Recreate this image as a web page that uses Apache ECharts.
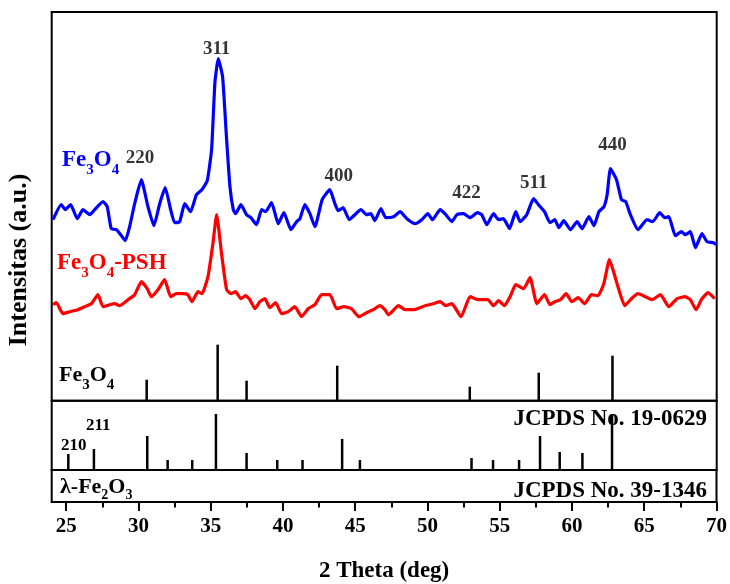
<!DOCTYPE html>
<html><head><meta charset="utf-8">
<script src="https://cdn.jsdelivr.net/npm/echarts@6/dist/echarts.min.js"></script>
<style>html,body{margin:0;padding:0;background:#fff}#c{width:730px;height:584px}</style>
</head><body><div id="c"></div>
<script>
// ---------- data (2θ in degrees, intensity in arbitrary units) ----------
const blueX = [24.09,24.66,24.94,25.31,25.77,26.16,26.63,26.97,27.55,27.84,
  28.12,28.47,28.77,29.09,29.39,29.74,30.20,30.66,31.07,31.47,
  31.85,32.23,32.50,32.85,33.20,33.61,34.01,34.39,34.76,35.06,
  35.29,35.52,35.82,36.10,36.33,36.56,36.72,37.09,37.48,37.78,
  38.17,38.52,38.80,39.21,39.67,40.06,40.55,40.94,41.17,41.51,
  41.86,42.21,42.71,43.24,43.59,43.82,44.16,44.58,44.97,45.39,
  45.78,46.08,46.35,46.77,47.11,47.65,48.10,48.57,49.14,49.60,
  50.02,50.34,50.87,51.26,51.68,52.02,52.49,52.94,53.45,53.75,
  54.10,54.56,54.91,55.25,55.67,56.10,56.40,56.86,57.33,57.67,
  58.09,58.47,58.80,59.08,59.42,59.89,60.34,60.69,61.16,61.51,
  61.85,62.20,62.42,62.65,63.07,63.41,63.71,64.03,64.56,65.18,
  65.58,66.06,66.41,66.69,67.14,67.56,67.84,68.18,68.53,68.98,
  69.33,69.79,69.95];
const blueY = [181,196,191,196,182,191,186,191,199,194,
  172,171,166,160,174,197,221,194,175,197,
  213,191,178,179,197,189,206,211,220,251,
  318,342,324,261,214,191,187,196,186,183,
  176,191,189,198,177,188,171,179,182,196,
  187,174,201,211,197,190,193,181,186,191,
  186,187,180,192,183,184,189,182,177,181,
  187,181,191,186,179,186,187,183,188,186,
  176,187,181,182,172,189,179,186,202,196,
  189,178,181,173,180,171,179,172,184,175,
  189,194,206,232,221,201,199,186,171,181,
  179,188,183,184,165,169,166,169,153,167,
  159,158,156];
const redX = [24.09,24.32,24.78,25.24,25.82,26.28,26.74,27.20,27.55,28.01,
  28.36,28.70,29.28,29.74,30.20,30.61,30.89,31.35,31.81,32.23,
  32.62,33.08,33.42,33.70,34.12,34.39,34.81,35.15,35.41,35.75,
  36.10,36.40,36.72,37.09,37.41,37.71,38.06,38.40,38.75,39.09,
  39.49,39.90,40.36,40.82,41.29,41.74,42.21,42.67,43.24,43.71,
  44.23,44.74,45.25,45.78,46.24,46.70,47.05,47.30,47.99,48.45,
  49.03,49.83,50.41,50.87,51.26,51.68,52.32,52.94,53.52,54.17,
  54.56,54.91,55.32,55.71,56.10,56.64,57.09,57.56,58.09,58.47,
  58.80,59.19,59.58,59.99,60.41,60.87,61.34,61.79,62.19,62.58,
  63.11,63.64,64.10,64.56,65.07,65.53,66.11,66.69,67.26,67.79,
  68.18,68.57,68.98,69.40,69.86];
const redY = [96,98,87,89,91,94,97,106,94,96,
  97,95,101,106,119,112,104,111,121,104,
  107,107,106,99,109,107,124,157,186,147,
  111,107,109,102,105,101,92,99,102,93,
  98,87,89,94,84,92,96,106,106,92,
  94,92,84,88,91,95,91,86,95,91,
  91,95,97,99,95,97,84,104,101,101,
  95,100,95,104,116,112,123,97,106,96,
  99,101,107,99,103,97,106,105,117,141,
  117,95,102,107,104,101,106,94,102,104,
  101,91,102,108,102];
// reference patterns (stick positions / heights)
const fe3o4Pos = [30.57,35.48,37.48,43.75,52.92,57.69,62.79];
const fe3o4Int = [21,56,20,35,14,28,45];
const lamPos = [25.15,26.92,30.61,32.02,33.72,35.36,37.48,39.60,41.35,44.09,45.32,53.04,54.53,56.33,57.78,59.14,60.71,62.76];
const lamInt = [16,21,34,10,10,56,17,10,10,31,10,12,10,10,34,18,17,56];
// peak (hkl) labels
const hklText = ['220','311','400','422','511','440'];
const hklX = [30.11,35.41,43.86,52.69,57.35,62.79];
const hklY = [243,352,225,208,218,256];
// axis ticks
const xMajor = [25,30,35,40,45,50,55,60,65,70];
const xMinor = [27.5,32.5,37.5,42.5,47.5,52.5,57.5,62.5,67.5];

// ---------- chart ----------
const F = "'Liberation Serif','Times New Roman',serif";
const chart = echarts.init(document.getElementById('c'), null, {renderer:'canvas'});
const L = 51.7, R = 730 - 716.7;
function hiddenX(i){return {gridIndex:i,type:'value',min:24,max:70,show:false};}
function hiddenY(i,max){return {gridIndex:i,type:'value',min:0,max:max,show:false};}
function formula(x, y, parts, size, sub, drop, color){
  const text = parts.map(p => p[1] ? '{s|'+p[0]+'}' : '{m|'+p[0]+'}').join('');
  return {type:'text', x:x, y:y, silent:true, style:{text:text, textAlign:'left', textVerticalAlign:'top',
    rich:{
      m:{fontFamily:F,fontWeight:'bold',fontSize:size,lineHeight:size+drop,verticalAlign:'top',fill:color,color:color},
      s:{fontFamily:F,fontWeight:'bold',fontSize:sub,lineHeight:sub,verticalAlign:'bottom',fill:color,color:color}
    }}};
}
const option = {
  animation:false,
  backgroundColor:'#fff',
  grid:[
    {left:L,right:R,top:12,height:388.7,show:true,borderColor:'#000',borderWidth:2},
    {left:L,right:R,top:400.7,height:69.3,show:true,borderColor:'#000',borderWidth:2},
    {left:L,right:R,top:470,height:36,show:true,borderColor:'#000',borderWidth:2}
  ],
  xAxis:[
    hiddenX(0), hiddenX(1),
    {gridIndex:2,type:'value',min:24,max:70,position:'bottom',
      axisLine:{show:true,onZero:false,lineStyle:{color:'#000',width:2}},
      axisTick:{show:true,customValues:xMajor,length:9,lineStyle:{color:'#000',width:2}},
      axisLabel:{show:true,customValues:xMajor,margin:14,color:'#000',fontFamily:F,fontWeight:'bold',fontSize:21},
      splitLine:{show:false},
      name:'2 Theta (deg)',nameLocation:'middle',nameGap:58,
      nameTextStyle:{color:'#000',fontFamily:F,fontWeight:'bold',fontSize:23}},
    {gridIndex:2,type:'value',min:24,max:70,position:'bottom',
      axisLine:{show:false},
      axisTick:{show:true,customValues:xMinor,length:5.5,lineStyle:{color:'#000',width:2}},
      axisLabel:{show:false},splitLine:{show:false}}
  ],
  yAxis:[hiddenY(0,388.7), hiddenY(1,69.3), hiddenY(2,1)],
  series:[
    {type:'line',xAxisIndex:0,yAxisIndex:0,data:blueX.map((x,i)=>[x,blueY[i]]),showSymbol:false,smooth:0.15,
      lineStyle:{color:'#0000ff',width:3.2},itemStyle:{color:'#0000ff'},silent:true},
    {type:'line',xAxisIndex:0,yAxisIndex:0,data:redX.map((x,i)=>[x,redY[i]]),showSymbol:false,smooth:0.15,
      lineStyle:{color:'#ff0000',width:3.2},itemStyle:{color:'#ff0000'},silent:true},
    {type:'bar',xAxisIndex:0,yAxisIndex:0,data:fe3o4Pos.map((x,i)=>[x,fe3o4Int[i]]),barWidth:2.5,
      itemStyle:{color:'#000'},silent:true},
    {type:'bar',xAxisIndex:1,yAxisIndex:1,data:lamPos.map((x,i)=>[x,lamInt[i]]),barWidth:2.5,
      itemStyle:{color:'#000'},silent:true},
    {type:'scatter',xAxisIndex:0,yAxisIndex:0,symbolSize:0,silent:true,
      data:hklText.map((t,i)=>({name:t,value:[hklX[i],hklY[i]]})),
      label:{show:true,position:'inside',formatter:'{b}',color:'#000',fontFamily:F,fontWeight:'bold',fontSize:19}}
  ],
  graphic:[
    formula(62, 149, [['Fe',0],['3',1],['O',0],['4',1]], 23, 15, 6, '#0000ff'),
    formula(57, 252, [['Fe',0],['3',1],['O',0],['4',1],['-PSH',0]], 23, 15, 6, '#ff0000'),
    formula(59, 364, [['Fe',0],['3',1],['O',0],['4',1]], 22, 15, 7, '#000'),
    formula(60, 476, [['λ-Fe',0],['2',1],['O',0],['3',1]], 22, 14, 4, '#000'),
    {type:'text',x:61,y:446,silent:true,style:{text:'210',textAlign:'left',textVerticalAlign:'middle',font:'bold 17px '+F,fill:'#000'}},
    {type:'text',x:86,y:426,silent:true,style:{text:'211',textAlign:'left',textVerticalAlign:'middle',font:'bold 17px '+F,fill:'#000'}},
    {type:'text',x:707,y:419,silent:true,style:{text:'JCPDS No. 19-0629',textAlign:'right',textVerticalAlign:'middle',font:'bold 23px '+F,fill:'#000'}},
    {type:'text',x:707,y:491,silent:true,style:{text:'JCPDS No. 39-1346',textAlign:'right',textVerticalAlign:'middle',font:'bold 23px '+F,fill:'#000'}},
    {type:'text',x:19,y:260,rotation:Math.PI/2,silent:true,style:{text:'Intensitas (a.u.)',textAlign:'center',textVerticalAlign:'middle',font:'bold 26px '+F,fill:'#000'}}
  ]
};
chart.setOption(option);
</script></body></html>
